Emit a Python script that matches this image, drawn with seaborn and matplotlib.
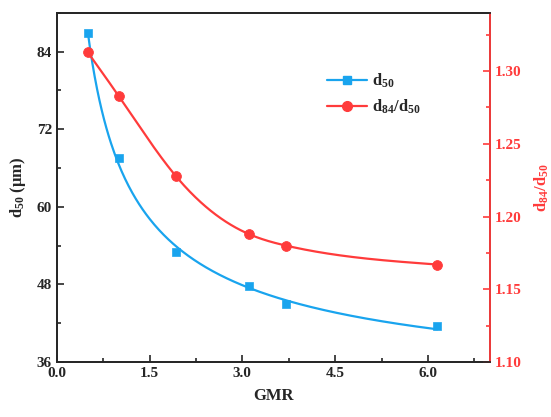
import matplotlib
matplotlib.use("Agg")
import matplotlib.pyplot as plt
import numpy as np
import pandas as pd
import seaborn as sns
from matplotlib.lines import Line2D
from matplotlib.ticker import FormatStrFormatter, MultipleLocator

gmr = [0.5, 1.0, 1.92, 3.1, 3.71, 6.15]
d50 = [86.9, 67.6, 53.0, 47.7, 45.0, 41.6]
d84_d50 = [1.313, 1.283, 1.228, 1.188, 1.180, 1.167]

BLUE = "#19a4ee"
RED = "#ff3b3b"


def _power_fit(x, y):
    # y = y0 + A * x**b, grid search on b, least squares on y0 and A
    x = np.asarray(x, dtype=float)
    y = np.asarray(y, dtype=float)
    best = None
    for b in np.linspace(-3, -0.05, 600):
        m = np.column_stack([np.ones_like(x), x ** b])
        coef, *_ = np.linalg.lstsq(m, y, rcond=None)
        err = np.sum((m @ coef - y) ** 2)
        if best is None or err < best[0]:
            best = (err, b, coef)
    _, b, coef = best
    xs = np.linspace(x.min(), x.max(), 300)
    return xs, coef[0] + coef[1] * xs ** b


def _smooth_curve(x, y, lam=1500.0, step=0.01):
    # penalised (Whittaker) smoother through the points
    x = np.asarray(x, dtype=float)
    y = np.asarray(y, dtype=float)
    xs = np.arange(x.min(), x.max() + step / 2, step)
    n = len(xs)
    idx = np.rint((x - x.min()) / step).astype(int)
    w = np.zeros(n)
    z = np.zeros(n)
    w[idx] = 1.0
    z[idx] = y
    d2 = np.diff(np.eye(n), 2, axis=0)
    f = np.linalg.solve(np.diag(w) + lam * d2.T @ d2, w * z)
    return xs, f


sns.set_style("ticks")
plt.rcParams["font.family"] = ["Liberation Serif", "DejaVu Serif"]
plt.rcParams["font.weight"] = "bold"
plt.rcParams["mathtext.fontset"] = "custom"
plt.rcParams["mathtext.rm"] = "Liberation Serif:bold"
plt.rcParams["mathtext.it"] = "Liberation Serif:bold"
plt.rcParams["mathtext.bf"] = "Liberation Serif:bold"

fig = plt.figure(figsize=(5.51, 4.17), dpi=100)
ax = fig.add_axes([0.103, 0.132, 0.786, 0.837])
ax2 = ax.twinx()

points = pd.DataFrame({"gmr": gmr, "d50": d50, "ratio": d84_d50})
bx, by = _power_fit(gmr, d50)
rx, ry = _smooth_curve(gmr, d84_d50)

sns.lineplot(x=bx, y=by, ax=ax, color=BLUE, linewidth=1.6)
sns.scatterplot(data=points, x="gmr", y="d50", ax=ax, color=BLUE, marker="s", s=36, edgecolor=BLUE, zorder=3)
sns.lineplot(x=rx, y=ry, ax=ax2, color=RED, linewidth=1.6)
sns.scatterplot(data=points, x="gmr", y="ratio", ax=ax2, color=RED, marker="o", s=50, edgecolor=RED, zorder=3)

ax.set_xlim(0, 7)
ax.set_ylim(36, 90)
ax2.set_ylim(1.10, 1.34)
ax.xaxis.set_major_locator(MultipleLocator(1.5))
ax.xaxis.set_minor_locator(MultipleLocator(0.75))
ax.yaxis.set_major_locator(MultipleLocator(12))
ax.yaxis.set_minor_locator(MultipleLocator(6))
ax2.yaxis.set_major_locator(MultipleLocator(0.05))
ax2.yaxis.set_minor_locator(MultipleLocator(0.025))
ax.xaxis.set_major_formatter(FormatStrFormatter("%.1f"))
ax2.yaxis.set_major_formatter(FormatStrFormatter("%.2f"))

ax.set_xlabel("GMR", fontsize=12, fontweight="bold", labelpad=6)
ax.set_ylabel("d$_{50}$ (μm)", fontsize=12, fontweight="bold", labelpad=6)
ax2.set_ylabel("d$_{84}$/d$_{50}$", fontsize=12, fontweight="bold", color=RED, rotation=90, labelpad=8)

for a in (ax, ax2):
    for side in a.spines.values():
        side.set_linewidth(1.3)
ax.tick_params(which="both", direction="in", width=1.2, labelsize=11)
ax.tick_params(which="major", length=5)
ax.tick_params(which="minor", length=3)
ax.tick_params(axis="y", right=False)
ax.tick_params(axis="x", top=False)
ax2.tick_params(which="both", direction="in", width=1.2, colors=RED, labelsize=11)
ax2.tick_params(which="major", length=5)
ax2.tick_params(which="minor", length=3)
ax2.spines["right"].set_color(RED)
for lbl in ax.get_xticklabels() + ax.get_yticklabels() + ax2.get_yticklabels():
    lbl.set_fontweight("bold")

handles = [
    Line2D([], [], color=BLUE, marker="s", markersize=6, linewidth=1.6),
    Line2D([], [], color=RED, marker="o", markersize=7, linewidth=1.6),
]
ax.legend(handles, ["d$_{50}$", "d$_{84}$/d$_{50}$"], loc="upper left", bbox_to_anchor=(0.59, 0.875),
          frameon=False, fontsize=12, handlelength=2.4, handletextpad=0.3, labelspacing=0.45)

fig.savefig("out.png", dpi=100)
